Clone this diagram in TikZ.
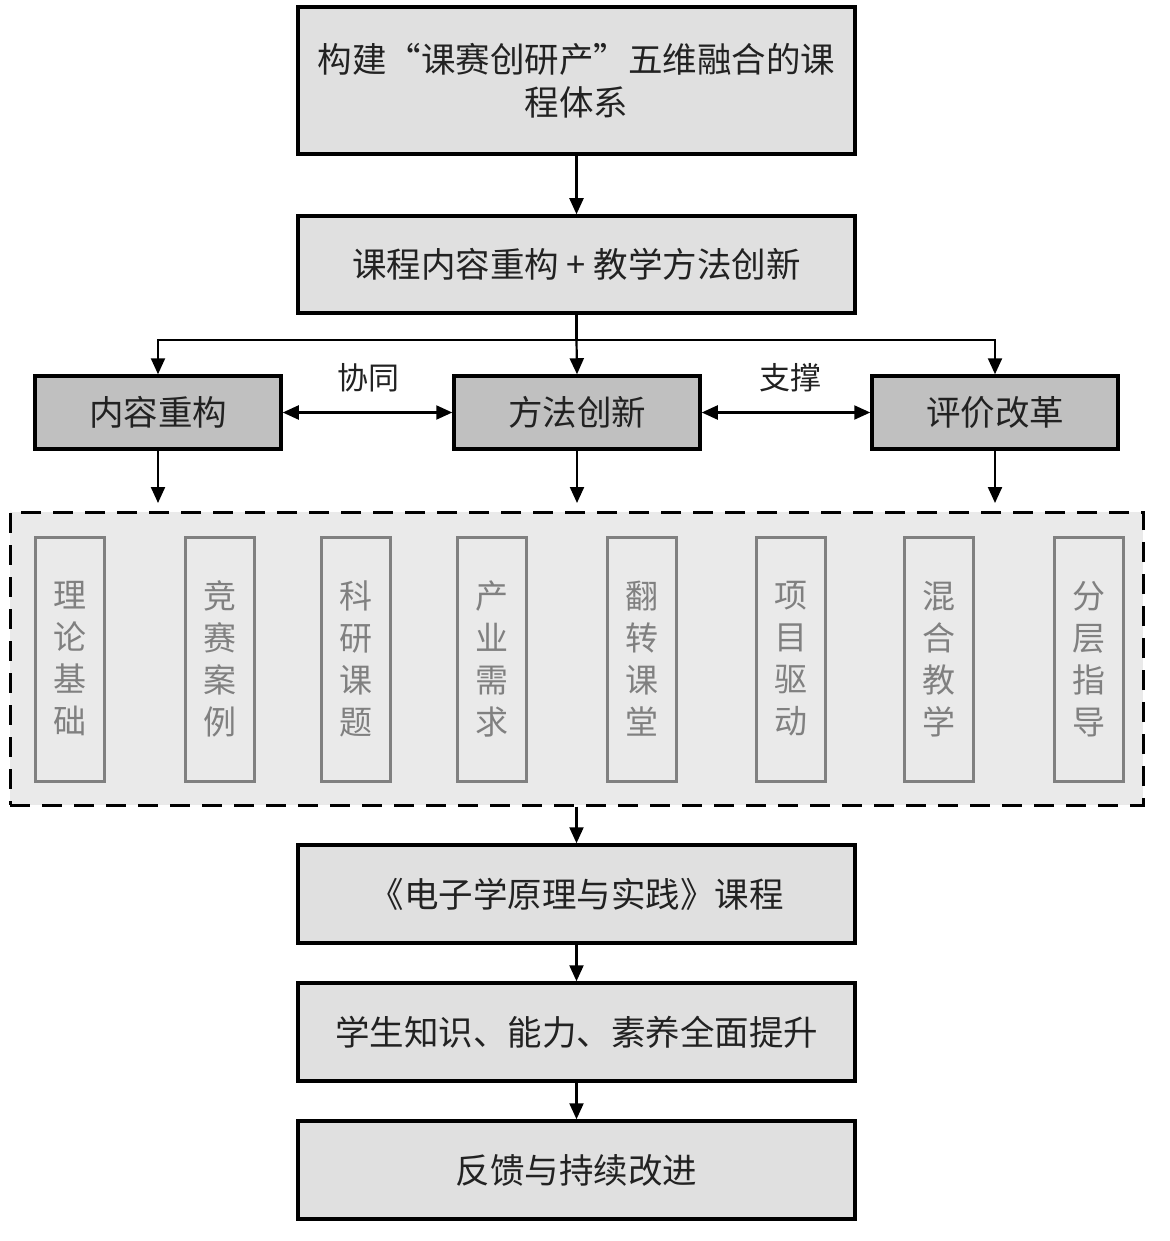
\documentclass[tikz,border=0pt]{standalone}
\usepackage{fontspec}
\newfontfamily\cjk{Noto Sans CJK SC}
\usetikzlibrary{arrows.meta}
\definecolor{boxfill}{HTML}{E0E0E0}
\definecolor{rowfill}{HTML}{C0C0C0}
\definecolor{dashfill}{HTML}{EAEAEA}
\definecolor{innergray}{HTML}{808080}
\definecolor{txt}{HTML}{222222}
\begin{document}
\begin{tikzpicture}[x=1pt,y=-1pt,
  mainbox/.style={draw=black, line width=3.5pt, fill=boxfill, minimum width=557pt, inner sep=0pt,
    align=center, text=txt, font=\cjk\fontsize{34.5}{43}\selectfont},
  rowbox/.style={draw=black, line width=3.5pt, fill=rowfill, minimum width=246pt, minimum height=73pt,
    inner sep=0pt, align=center, text=txt, font=\cjk\fontsize{34.5}{43}\selectfont},
  innerbox/.style={draw=innergray, line width=3pt, fill=dashfill, minimum width=69pt, minimum height=244pt,
    inner sep=0pt, align=center, text=innergray, font=\cjk\fontsize{33}{42}\selectfont},
  dashbox/.style={draw=black, line width=3pt, dash pattern=on 20pt off 12pt, fill=dashfill,
    minimum width=1133pt, minimum height=293pt, inner sep=0pt},
  lbl/.style={text=txt, font=\cjk\fontsize{31}{36}\selectfont, inner sep=0pt},
  arr/.style={draw=black, line width=2.2pt, -{Triangle[length=16pt,width=14pt]}},
  arrboth/.style={draw=black, line width=2.2pt, {Triangle[length=16pt,width=14pt]}-{Triangle[length=16pt,width=14pt]}},
  conn/.style={draw=black, line width=2.2pt}
]
\useasboundingbox (0,0) rectangle (1169,1241);
\fill[white] (0,0) rectangle (1169,1241);

\node[mainbox, minimum height=147pt] (top) at (576.5,80.5) {构建“课赛创研产”五维融合的课\\程体系};
\node[mainbox, minimum height=97pt] (b2) at (576.5,264.5) {课程内容重构 + 教学方法创新};

\node[rowbox] (r1) at (158,412.5) {内容重构};
\node[rowbox] (r2) at (577,412.5) {方法创新};
\node[rowbox] (r3) at (995,412.5) {评价改革};

\node[lbl] (l1) at (368,378) {协同};
\node[lbl] (l2) at (790,378) {支撑};

\node[dashbox] (dash) at (576.5,658.5) {};
\node[innerbox] (i1) at (69.5,659) {理\\论\\基\\础};
\node[innerbox] (i2) at (219.5,659) {竞\\赛\\案\\例};
\node[innerbox] (i3) at (355.5,659) {科\\研\\课\\题};
\node[innerbox] (i4) at (491.5,659) {产\\业\\需\\求};
\node[innerbox] (i5) at (641.5,659) {翻\\转\\课\\堂};
\node[innerbox] (i6) at (790.5,659) {项\\目\\驱\\动};
\node[innerbox] (i7) at (938.5,659) {混\\合\\教\\学};
\node[innerbox] (i8) at (1088.5,659) {分\\层\\指\\导};

\node[mainbox, minimum height=98pt] (c1) at (576.5,894) {《电子学原理与实践》课程};
\node[mainbox, minimum height=98pt] (c2) at (576.5,1032) {学生知识、能力、素养全面提升};
\node[mainbox, minimum height=98pt] (c3) at (576.5,1170) {反馈与持续改进};

\coordinate (j) at (576.5,340);
\coordinate (d1) at (158,503);
\coordinate (d2) at (577,503);
\coordinate (d3) at (995,503);

\draw[arr] (top) -- (b2);
\draw[conn] (b2.south) -- (j);
\draw[arr] (j) -| (r1.north);
\draw[arr] (j) -| (r3.north);
\draw[arr] (j) -- (r2.north);
\draw[arrboth] (r1) -- (r2);
\draw[arrboth] (r2) -- (r3);
\draw[arr] (r1.south) -- (d1);
\draw[arr] (r2.south) -- (d2);
\draw[arr] (r3.south) -- (d3);
\draw[arr] (dash.south) -- (c1.north);
\draw[arr] (c1) -- (c2);
\draw[arr] (c2) -- (c3);
\end{tikzpicture}
\end{document}
